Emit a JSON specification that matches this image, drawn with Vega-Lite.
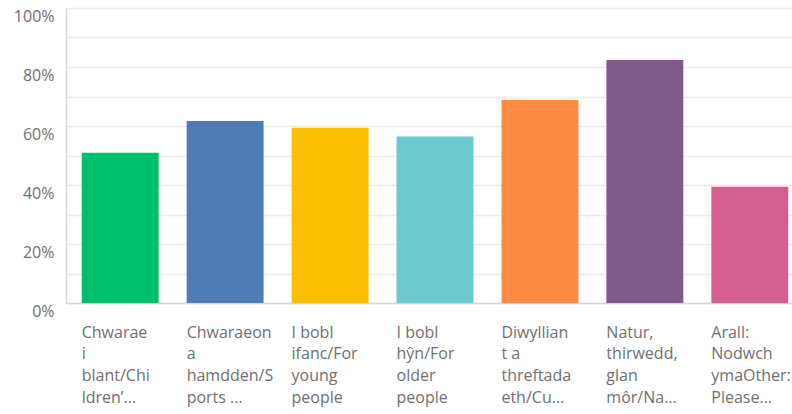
{
  "$schema": "https://vega.github.io/schema/vega-lite/v6.json",
  "width": 738,
  "height": 295,
  "autosize": {"type": "none"},
  "padding": {"left": 66, "top": 8, "right": 0, "bottom": 111},
  "background": "white",
  "config": {"view": {"stroke": null}, "font": "Open Sans"},
  "data": {
    "values": [
      {"cat": "Chwarae|i|blant/Chi|ldren’...", "pct": 50.9},
      {"cat": "Chwaraeon|a|hamdden/S|ports ...", "pct": 61.7},
      {"cat": "I bobl|ifanc/For|young|people", "pct": 59.4},
      {"cat": "I bobl|hŷn/For|older|people", "pct": 56.4},
      {"cat": "Diwyllian|t a|threftada|eth/Cu...", "pct": 68.8},
      {"cat": "Natur,|thirwedd,|glan|môr/Na...", "pct": 82.4},
      {"cat": "Arall:|Nodwch|ymaOther:|Please...", "pct": 39.4}
    ]
  },
  "mark": {"type": "bar"},
  "encoding": {
    "x": {
      "field": "cat",
      "type": "nominal",
      "sort": null,
      "scale": {"paddingInner": 0.267, "paddingOuter": 0.15},
      "axis": {
        "title": null,
        "labelAngle": 0,
        "labelAlign": "left",
        "labelBaseline": "top",
        "labelOffset": -38.5,
        "labelPadding": 21,
        "labelFontSize": 16,
        "labelLineHeight": 21.7,
        "labelColor": "#6f6f6f",
        "labelLimit": 0,
        "labelExpr": "split(datum.value, '|')",
        "ticks": false,
        "domainColor": "#d6d6d6",
        "domainWidth": 1.5
      }
    },
    "y": {
      "field": "pct",
      "type": "quantitative",
      "scale": {"domain": [0, 100]},
      "axis": {
        "title": null,
        "values": [0, 10, 20, 30, 40, 50, 60, 70, 80, 90, 100],
        "labelExpr": "datum.value % 20 == 0 ? datum.value + '%' : ''",
        "labelFontSize": 16,
        "labelColor": "#6f6f6f",
        "labelPadding": 12,
        "labelOffset": 8,
        "ticks": false,
        "grid": true,
        "gridColor": "#ececec",
        "gridWidth": 1.5,
        "domainColor": "#d6d6d6",
        "domainWidth": 1.5
      }
    },
    "color": {
      "field": "cat",
      "type": "nominal",
      "sort": null,
      "scale": {"range": ["#00BF6F", "#507CB6", "#F9BE00", "#6BC8CD", "#FF8B43", "#7F5A8C", "#D25F8E"]},
      "legend": null
    }
  }
}
